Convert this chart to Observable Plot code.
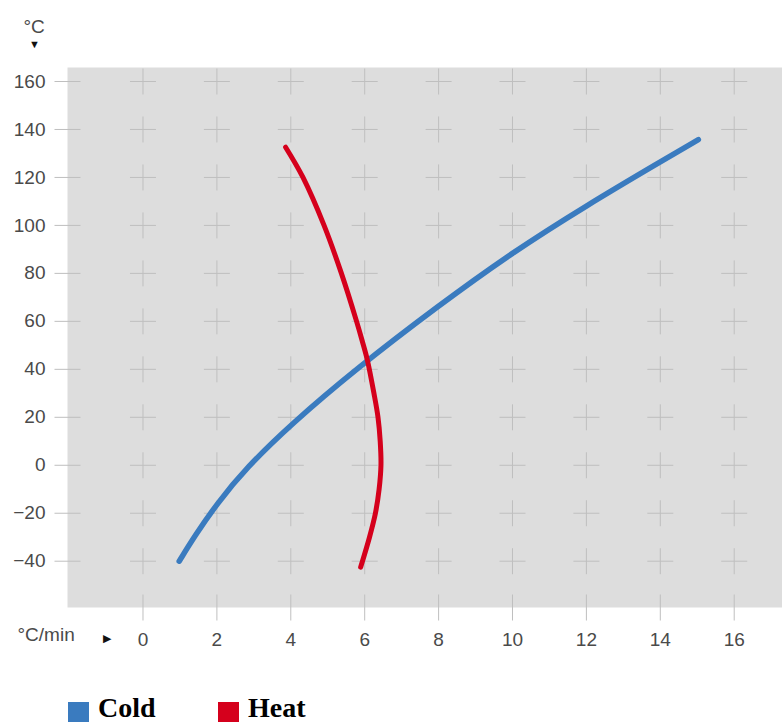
<!DOCTYPE html>
<html>
<head>
<meta charset="utf-8">
<script src="https://cdn.jsdelivr.net/npm/d3@7"></script>
<script src="https://cdn.jsdelivr.net/npm/@observablehq/plot@0.6"></script>
<style>
  html, body { margin: 0; padding: 0; background: #fff; }
  #wrap { position: relative; width: 782px; height: 724px; overflow: hidden; }
  #chart svg { display: block; }
  .lg { position: absolute; top: 697px; height: 22px; display: flex; align-items: flex-start;
        font-family: "Liberation Serif", "Times New Roman", serif; font-weight: bold;
        font-size: 28px; color: #000; line-height: 22px; }
  .sw { width: 21px; height: 20px; margin-right: 9px; margin-top: 5px; }
</style>
</head>
<body>
<div id="wrap">
  <div id="chart"></div>
  <div class="lg" style="left:68px"><div class="sw" style="background:#3a7bbf"></div><span>Cold</span></div>
  <div class="lg" style="left:218px"><div class="sw" style="background:#d5001c"></div><span>Heat</span></div>
</div>
<script>
// Tick values
const xTicks = [0, 2, 4, 6, 8, 10, 12, 14, 16];
const yTicks = [-40, -20, 0, 20, 40, 60, 80, 100, 120, 140, 160];

// Cold series (°C/min, °C)
const coldRate = [0.98, 1.4, 2.0, 2.8, 4.0, 5.75, 8, 10, 12, 14, 15.03];
const coldTemp = [-40, -29.5, -16, -1, 17, 40, 66.6, 88.8, 108.3, 126.5, 135.8];

// Heat series (°C/min, °C)
const heatRate = [5.89, 6.13, 6.29, 6.39, 6.44, 6.42, 6.36, 6.25, 6.07, 5.93, 5.78, 5.37, 4.90, 4.33, 3.86];
const heatTemp = [-42.5, -30, -20, -10, 0, 10, 20, 30, 44, 52, 60, 80, 100, 120, 132.6];

const cold = coldRate.map((r, i) => ({rate: r, temp: coldTemp[i]}));
const heat = heatRate.map((r, i) => ({rate: r, temp: heatTemp[i]}));
const grid = d3.cross(xTicks, yTicks).map(([x, y]) => ({x, y}));

const plus = {draw(c) { c.moveTo(-13, 0); c.lineTo(13, 0); c.moveTo(0, -13); c.lineTo(0, 13); }};
const hbar = {draw(c) { c.moveTo(-13, 0); c.lineTo(13, 0); }};
const vbar = {draw(c) { c.moveTo(0, -13); c.lineTo(0, 13); }};

const gridColor = "#bfbfbf";
const textColor = "#4a4a4a";

const chart = Plot.plot({
  width: 782,
  height: 680,
  marginLeft: 67,
  marginRight: 0,
  marginTop: 67,
  marginBottom: 73,
  x: {domain: [-2.043, 17.307]},
  y: {domain: [-59.3, 165.84]},
  style: {fontFamily: "'Liberation Sans', Arial, sans-serif", fontSize: "19px", background: "#fff", color: textColor},
  marks: [
    Plot.frame({fill: "#dddddd", stroke: null}),
    Plot.dot(grid, {x: "x", y: "y", symbol: plus, fill: "none", stroke: gridColor, strokeWidth: 1}),
    Plot.dot(yTicks, {y: d => d, frameAnchor: "left", symbol: hbar, fill: "none", stroke: gridColor, strokeWidth: 1}),
    Plot.dot(xTicks, {x: d => d, frameAnchor: "bottom", symbol: vbar, fill: "none", stroke: gridColor, strokeWidth: 1}),
    Plot.line(cold, {x: "rate", y: "temp", stroke: "#3a7bbf", strokeWidth: 5.5, curve: "basis", strokeLinecap: "round"}),
    Plot.line(heat, {x: "rate", y: "temp", stroke: "#d5001c", strokeWidth: 5, curve: "catmull-rom", strokeLinecap: "round"}),
    Plot.axisX(xTicks, {tickSize: 0, tickPadding: 25, label: null, fontSize: 19, fill: textColor}),
    Plot.axisY(yTicks, {tickSize: 0, tickPadding: 22, label: null, fontSize: 19, fill: textColor}),
    Plot.text(["°C/min"], {frameAnchor: "bottom-left", dx: -50, dy: 33, textAnchor: "start", fontSize: 19, fill: textColor}),
    Plot.text(["▶"], {frameAnchor: "bottom-left", dx: 35, dy: 34, fontSize: 11, fill: "#111"}),
    Plot.text(["°C"], {frameAnchor: "top-left", dx: -44, dy: -48, fontSize: 19, fill: textColor}),
    Plot.text(["▼"], {frameAnchor: "top-left", dx: -38.5, dy: -27, fontSize: 11, fill: "#111"})
  ]
});
document.getElementById("chart").appendChild(chart);
</script>
</body>
</html>
